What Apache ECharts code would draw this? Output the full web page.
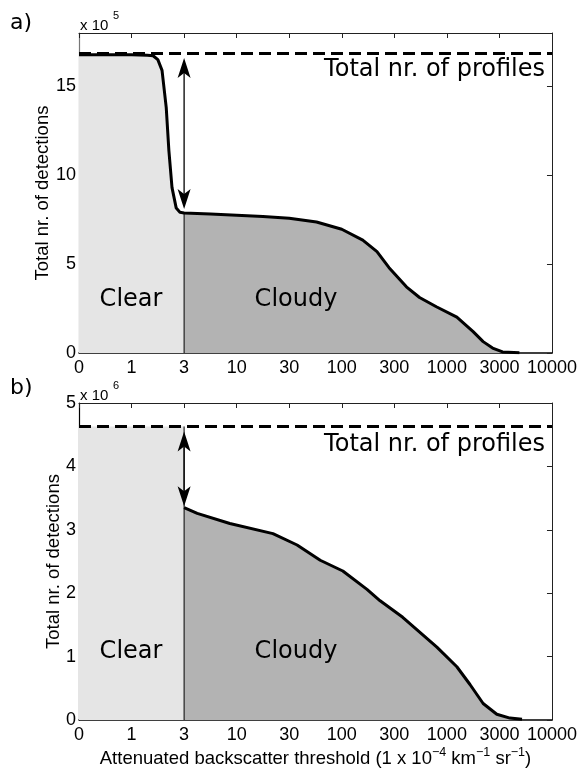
<!DOCTYPE html>
<html>
<head>
<meta charset="utf-8">
<script src="https://cdn.jsdelivr.net/npm/echarts@6/dist/echarts.min.js"></script>
<style>
html,body{margin:0;padding:0;background:#fff}
#chart{width:580px;height:769px}
</style>
</head>
<body>
<div id="chart"></div>
<script>
// Threshold axis: ticks are equally spaced, labelled with these values
const tickLabels = ['0', '1', '3', '10', '30', '100', '300', '1000', '3000', '10000'];
const clearLimitPos = 2;   // tick index of the threshold 3 (clear / cloudy split)

// Panel a) — position along the tick-index axis and total detections
const posA = [0, 0.5, 1.0, 1.3, 1.41, 1.5, 1.58, 1.66, 1.71, 1.77, 1.85, 1.92, 2.0, 2.5, 3.0, 3.5, 4.0, 4.52, 5.0, 5.4, 5.67, 5.9, 6.23, 6.48, 6.8, 7.19, 7.5, 7.69, 7.87, 8.06, 8.38];
const detA = [16.78e5, 16.78e5, 16.77e5, 16.75e5, 16.72e5, 16.5e5, 15.9e5, 13.8e5, 11.4e5, 9.3e5, 8.15e5, 7.92e5, 7.88e5, 7.82e5, 7.75e5, 7.68e5, 7.58e5, 7.37e5, 6.96e5, 6.35e5, 5.7e5, 4.8e5, 3.72e5, 3.12e5, 2.6e5, 2.02e5, 1.2e5, 0.64e5, 0.28e5, 0.06e5, 0.02e5];
const totalA = 16.85e5;
const arrowA = [16.6e5, 8.1e5];

// Panel b)
const posB = [2.0, 2.25, 2.87, 3.69, 4.15, 4.59, 5.02, 5.48, 5.73, 6.16, 6.81, 7.19, 7.44, 7.69, 7.95, 8.2, 8.43];
const detB = [3.35e6, 3.26e6, 3.1e6, 2.94e6, 2.76e6, 2.52e6, 2.35e6, 2.06e6, 1.88e6, 1.62e6, 1.15e6, 0.84e6, 0.56e6, 0.26e6, 0.09e6, 0.03e6, 0.01e6];
const totalB = 4.63e6;
const arrowB = [4.55e6, 3.37e6];

const CLEAR_FILL = '#e5e5e5';
const CLOUDY_FILL = '#b3b3b3';
const TICK_FONT = 'Liberation Sans';
const TEXT_FONT = 'DejaVu Sans';

const pairs = (xs, ys) => xs.map((x, i) => [x, ys[i]]);

function panelAxes(gi, max, step, scale, nameGap, leftColor, withXName) {
  const xBottom = {
    type: 'value', gridIndex: gi, position: 'bottom', min: 0, max: 9, interval: 1,
    axisLine: { onZero: false, lineStyle: { color: '#000', width: 1.5 } },
    axisTick: { show: false }, splitLine: { show: false },
    axisLabel: { formatter: v => tickLabels[v] ?? '', fontFamily: TICK_FONT, fontSize: 18, color: '#000', margin: 6 }
  };
  if (withXName) {
    xBottom.name = '{t|Attenuated backscatter threshold (1 x 10}{s|−4}{t| km}{s|−1}{t| sr}{s|−1}{t|)}';
    xBottom.nameLocation = 'middle';
    xBottom.nameGap = 26;
    xBottom.nameMoveOverlap = false;
    xBottom.nameTextStyle = {
      rich: {
        t: { fontFamily: TICK_FONT, fontSize: 18.5, color: '#000', verticalAlign: 'bottom', lineHeight: 22 },
        s: { fontFamily: TICK_FONT, fontSize: 12.5, color: '#000', verticalAlign: 'top', lineHeight: 22 }
      }
    };
  }
  const xTop = {
    type: 'value', gridIndex: gi, position: 'top', min: 0, max: 9, interval: 1,
    axisLine: { onZero: false, lineStyle: { color: '#222', width: 1 } },
    axisTick: { inside: true, length: 5, lineStyle: { color: '#222' } },
    axisLabel: { show: false }, splitLine: { show: false }
  };
  const yLeft = {
    type: 'value', gridIndex: gi, position: 'left', min: 0, max: max, interval: step,
    axisLine: { show: true, onZero: false, lineStyle: { color: leftColor, width: 1.2 } },
    axisTick: { show: false }, splitLine: { show: false },
    axisLabel: {
      formatter: v => (Math.abs(v / step - Math.round(v / step)) < 1e-9 ? String(Math.round(v / scale)) : ''),
      fontFamily: TICK_FONT, fontSize: 18, color: '#000', margin: 3
    },
    name: 'Total nr. of detections', nameLocation: 'middle', nameGap: nameGap, nameMoveOverlap: false,
    nameTextStyle: { fontFamily: TICK_FONT, fontSize: 18.5, color: '#000' }
  };
  const yRight = {
    type: 'value', gridIndex: gi, position: 'right', min: 0, max: max, interval: step,
    axisLine: { show: true, onZero: false, lineStyle: { color: '#222', width: 1 } },
    axisTick: { show: true, inside: true, length: 5, lineStyle: { color: '#222' } },
    axisLabel: { show: false }, splitLine: { show: false }
  };
  return { x: [xBottom, xTop], y: [yLeft, yRight] };
}

function panelSeries(gi, clearData, cloudyData, curveData, sepTop, total) {
  const xi = gi * 2, yi = gi * 2;
  const base = { type: 'line', xAxisIndex: xi, yAxisIndex: yi, symbol: 'none', silent: true, animation: false };
  return [
    Object.assign({}, base, { data: clearData, lineStyle: { width: 0 }, areaStyle: { color: CLEAR_FILL, opacity: 1 }, z: 1 }),
    Object.assign({}, base, { data: cloudyData, lineStyle: { width: 0 }, areaStyle: { color: CLOUDY_FILL, opacity: 1 }, z: 1 }),
    Object.assign({}, base, { data: [[clearLimitPos, 0], [clearLimitPos, sepTop]], lineStyle: { color: '#000', width: 1 }, z: 3 }),
    Object.assign({}, base, { data: [[0, total], [9, total]], lineStyle: { color: '#000', width: 3, type: [12, 6] }, z: 4 }),
    Object.assign({}, base, { data: curveData, lineStyle: { color: '#000', width: 3 }, z: 5 })
  ];
}

const dataA = pairs(posA, detA);
const dataB = pairs(posB, detB);
const axA = panelAxes(0, 18e5, 5e5, 1e5, 27, '#777', false);
const axB = panelAxes(1, 5e6, 1e6, 1e6, 16, '#000', true);

const series = []
  .concat(panelSeries(0,
    dataA.filter(d => d[0] <= clearLimitPos),
    dataA.filter(d => d[0] >= clearLimitPos),
    dataA, detA[posA.indexOf(clearLimitPos)], totalA))
  .concat(panelSeries(1,
    [[0, totalB], [clearLimitPos, totalB]],
    dataB, dataB, totalB, totalB));

function label(text, x, y, size, align, family) {
  return {
    type: 'text', x: x, y: y, silent: true, z: 10,
    style: { text: text, font: size + 'px "' + (family || TEXT_FONT) + '"', fill: '#000',
      align: align || 'left', textAlign: align || 'left', verticalAlign: 'middle', textVerticalAlign: 'middle' }
  };
}
function power(base, exp, x, y) {
  return {
    type: 'group', x: x, y: y, silent: true,
    children: [
      label(base, 0, 0, 15, 'left', TICK_FONT),
      label(exp, 33, -10, 11, 'left', TICK_FONT)
    ]
  };
}

const chart = echarts.init(document.getElementById('chart'), null, { renderer: 'canvas' });
chart.setOption({
  animation: false,
  backgroundColor: '#fff',
  grid: [
    { left: 79, top: 33, width: 473, height: 320 },
    { left: 79, top: 403, width: 473, height: 321 }
  ],
  xAxis: axA.x.concat(axB.x),
  yAxis: axA.y.concat(axB.y),
  series: series
});

// Double-headed arrow between the total-profiles line and the curve at the clear/cloudy split
function doubleArrow(gi, x, yFrom, yTo) {
  const finder = { xAxisIndex: gi * 2, yAxisIndex: gi * 2 };
  const a = chart.convertToPixel(finder, [x, yFrom]);
  const b = chart.convertToPixel(finder, [x, yTo]);
  const L = 20, W = 6.5, N = 15;
  const head = (p, dir) => ({
    type: 'polygon', silent: true, z: 10,
    shape: { points: [[p[0], p[1]], [p[0] - W, p[1] + dir * L], [p[0], p[1] + dir * N], [p[0] + W, p[1] + dir * L]] },
    style: { fill: '#000' }
  });
  return [
    { type: 'line', silent: true, z: 10, shape: { x1: a[0], y1: a[1] + N, x2: b[0], y2: b[1] - N }, style: { stroke: '#000', lineWidth: 1.3 } },
    head(a, 1),
    head(b, -1)
  ];
}

chart.setOption({
  graphic: [
    label('a)', 10, 23, 22),
    label('b)', 10, 388, 22),
    power('x 10', '5', 80, 26),
    power('x 10', '6', 80, 396),
    label('Total nr. of profiles', 545, 70, 24, 'right'),
    label('Total nr. of profiles', 545, 445, 24, 'right'),
    label('Clear', 131, 300, 24, 'center'),
    label('Cloudy', 296, 300, 24, 'center'),
    label('Clear', 131, 652, 24, 'center'),
    label('Cloudy', 296, 652, 24, 'center')
  ].concat(doubleArrow(0, clearLimitPos, arrowA[0], arrowA[1]))
   .concat(doubleArrow(1, clearLimitPos, arrowB[0], arrowB[1]))
});
</script>
</body>
</html>
